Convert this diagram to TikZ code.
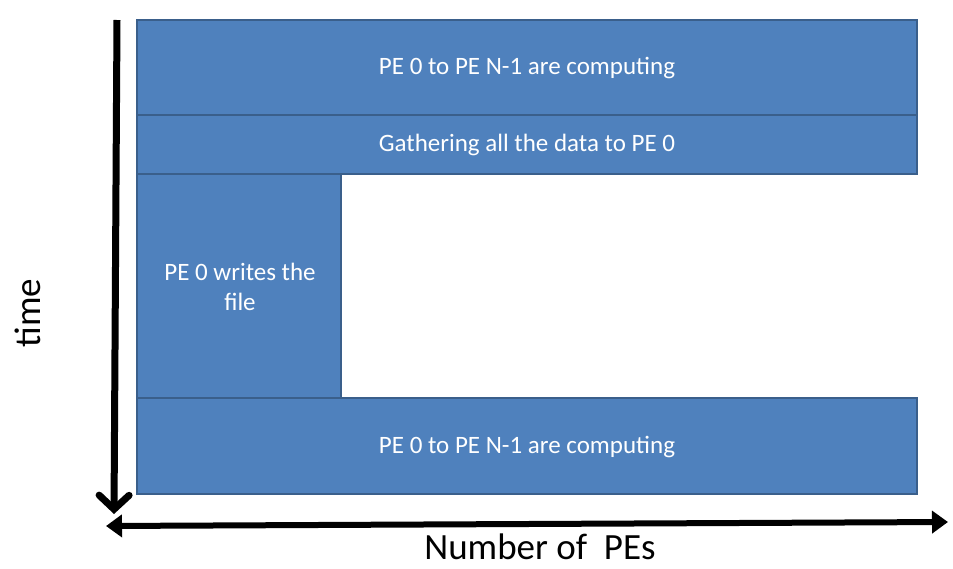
\documentclass[tikz,border=0pt]{standalone}
\usepackage{fontspec}
\setmainfont{Carlito}
\usetikzlibrary{arrows.meta}
\definecolor{boxfill}{HTML}{4F81BD}
\definecolor{boxline}{HTML}{3A5F8B}
\begin{document}
\begin{tikzpicture}[x=1pt,y=-1pt,
  blk/.style={draw=boxline,line width=2.5pt,fill=boxfill},
  btxt/.style={text=white,font=\fontsize{25}{30}\selectfont,align=center},
  lbl/.style={font=\fontsize{37}{44}\selectfont,inner sep=0pt}]
\useasboundingbox (0,0) rectangle (953,568);
\path[blk] (137,20) rectangle (917,115);
\node[btxt] (t1) at (527,68) {PE 0 to PE N-1 are computing};
\path[blk] (137,115) rectangle (917,174);
\node[btxt] (t2) at (527,145) {Gathering all the data to PE 0};
\path[blk] (137,174) rectangle (341,398);
\node[btxt] (t3) at (240,287) {PE 0 writes the\\file};
\path[blk] (137,398) rectangle (917,494);
\node[btxt] (t4) at (527,447) {PE 0 to PE N-1 are computing};
\coordinate (vtop) at (117,20);
\coordinate (vbot) at (114,514);
\draw[line width=7pt,-{Straight Barb[length=14pt,width=30pt,line cap=round]}] (vtop) -- (vbot);
\coordinate (hl) at (106,526);
\coordinate (hr) at (948,522);
\draw[line width=6pt,{Triangle[length=16pt,width=22pt]}-{Triangle[length=16pt,width=22pt]}] (hl) -- (hr);
\node[lbl,rotate=90] (time) at (28,313) {time};
\node[lbl,anchor=base] (npes) at (540,559) {Number of\ \ PEs};
\end{tikzpicture}
\end{document}
